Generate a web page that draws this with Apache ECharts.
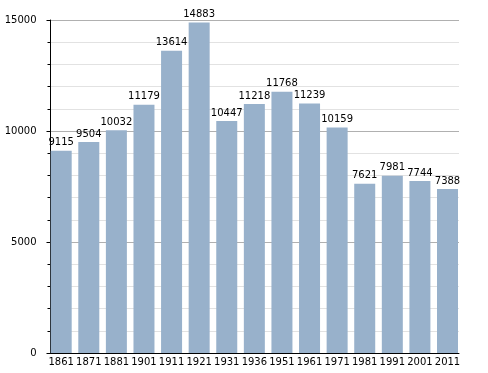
<!DOCTYPE html>
<html><head><meta charset="utf-8">
<script src="https://cdn.jsdelivr.net/npm/echarts@6/dist/echarts.min.js"></script>
<style>html,body{margin:0;padding:0;background:#fff}#c{width:488px;height:373px}</style>
</head><body><div id="c"></div>
<script>
var categories = ['1861','1871','1881','1901','1911','1921','1931','1936','1951','1961','1971','1981','1991','2001','2011'];
var population = [9115, 9504, 10032, 11179, 13614, 14883, 10447, 11218, 11768, 11239, 10159, 7621, 7981, 7744, 7388];
var yMin = 0, yMax = 15000, yStep = 5000;

var font = 'DejaVu Sans';
var chart = echarts.init(document.getElementById('c'), null, {renderer: 'canvas'});
chart.setOption({
  animation: false,
  backgroundColor: '#fff',
  textStyle: {fontFamily: font},
  grid: [
    {left: 47.4, right: 488 - 461.3, top: 20, bottom: 20},
    {left: 50.5, right: 29, top: 20, bottom: 20}
  ],
  xAxis: [
    {type: 'category', gridIndex: 0, data: categories,
     axisLine: {show: false}, axisTick: {show: false},
     axisLabel: {color: '#000', fontSize: 10, fontFamily: font, margin: 4, interval: 0}},
    {type: 'value', gridIndex: 1, min: 0, max: 1,
     axisLine: {show: true, onZero: false, lineStyle: {color: '#000', width: 1}},
     axisTick: {show: false}, axisLabel: {show: false}, splitLine: {show: false}}
  ],
  yAxis: [
    {type: 'value', gridIndex: 0, min: yMin, max: yMax, show: false, splitLine: {show: false}},
    {type: 'value', gridIndex: 1, min: yMin, max: yMax, interval: yStep,
     axisLine: {show: true, lineStyle: {color: '#000', width: 1}},
     axisTick: {show: true, length: 4, lineStyle: {color: '#000'}},
     minorTick: {show: true, splitNumber: 5, length: 3, lineStyle: {color: '#000'}},
     axisLabel: {color: '#000', fontSize: 10, fontFamily: font, margin: 14,
                 formatter: function (v) { return String(v); }},
     splitLine: {show: true, lineStyle: {color: '#b0b0b0', width: 1}},
     minorSplitLine: {show: true, lineStyle: {color: '#e2e2e2', width: 1}}}
  ],
  series: [{
    type: 'bar', xAxisIndex: 0, yAxisIndex: 0,
    data: population, barWidth: 21,
    itemStyle: {color: '#98b1cb'},
    label: {show: true, position: 'top', distance: 3, color: '#000', fontSize: 10, fontFamily: font}
  }]
});
</script></body></html>
